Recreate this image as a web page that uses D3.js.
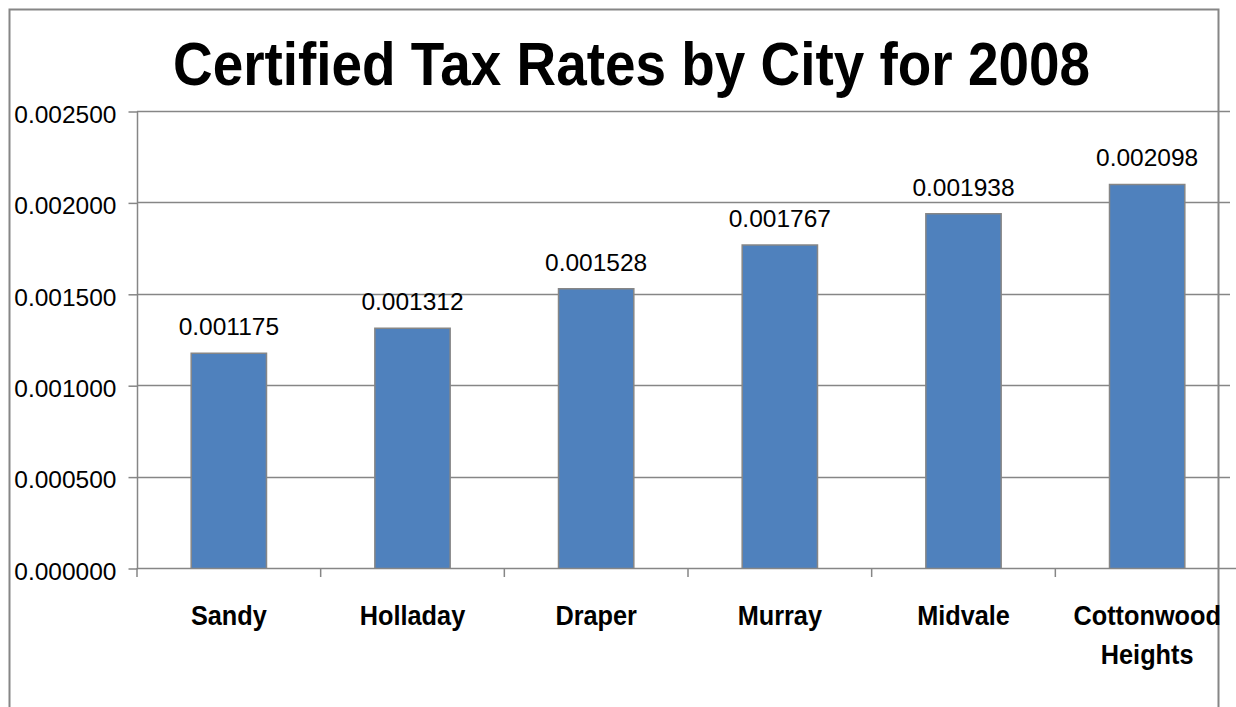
<!DOCTYPE html>
<html><head><meta charset="utf-8">
<script src="https://cdn.jsdelivr.net/npm/d3@7"></script>
<style>
html,body{margin:0;padding:0;background:#fff;}
svg{display:block;}
</style></head>
<body>
<svg id="c" width="1236" height="707"></svg>
<script>
const cities = ["Sandy","Holladay","Draper","Murray","Midvale","Cottonwood Heights"];
const rates = [0.001175,0.001312,0.001528,0.001767,0.001938,0.002098];
const yTicks = [0,0.0005,0.001,0.0015,0.002,0.0025];
const titleText = "Certified Tax Rates by City for 2008";

(function(){
const svg = d3.select("#c");
const gray = "#868686";
const pL = 137, pR = 1239, pT = 111, pB = 568;
const numFont = "'Liberation Sans',Arial,sans-serif";

// outer frame
svg.append("path").attr("d","M9.5,720 V9.5 H1218.5 V720")
  .attr("fill","none").attr("stroke",gray).attr("stroke-width",2);

// title
svg.append("text").attr("x",173).attr("y",85)
  .attr("font-family","'Liberation Sans',Arial,sans-serif")
  .attr("font-weight","bold").attr("font-size",61).attr("fill","#000")
  .attr("textLength",917).attr("lengthAdjust","spacingAndGlyphs")
  .text(titleText);

const x = d3.scaleBand().domain(cities).range([pL,pR]).paddingInner(0.59).paddingOuter(0.295);
const y = d3.scaleLinear().domain([0,0.0025]).range([pB,pT]);

// gridlines
svg.append("g").selectAll("line").data(yTicks.filter(d=>d>0)).join("line")
  .attr("x1",pL).attr("x2",1230).attr("y1",d=>Math.round(y(d))+0.5).attr("y2",d=>Math.round(y(d))+0.5)
  .attr("stroke",gray).attr("stroke-width",1.5);

// y axis
const yAxis = d3.axisLeft(y).tickValues(yTicks).tickFormat(d3.format(".6f")).tickSize(9).tickPadding(12);
const gy = svg.append("g").attr("transform",`translate(${pL+0.5},0.5)`).call(yAxis);
gy.select(".domain").attr("stroke",gray).attr("stroke-width",1.5).attr("d",`M0,${pT}V${pB}`);
gy.selectAll(".tick line").attr("stroke",gray).attr("stroke-width",1.5);
gy.selectAll(".tick text").attr("font-family",numFont)
  .attr("font-size",24.5).attr("fill","#000").attr("dy","0.44em");

// bars
const bars = svg.append("g");
bars.selectAll("rect").data(rates).join("rect")
  .attr("x",(d,i)=>x(cities[i])).attr("width",x.bandwidth())
  .attr("y",d=>y(d)).attr("height",d=>pB-y(d)+1)
  .attr("fill","#4F81BD");
bars.selectAll("path").data(rates).join("path")
  .attr("d",(d,i)=>{const x0=x(cities[i]),x1=x0+x.bandwidth();return `M${x0},${pB}V${y(d)}H${x1}V${pB}`;})
  .attr("fill","none").attr("stroke",gray).attr("stroke-width",1.5);

// x axis line and category ticks
svg.append("line").attr("x1",pL).attr("x2",1240).attr("y1",pB+0.5).attr("y2",pB+0.5)
  .attr("stroke",gray).attr("stroke-width",1.5);
const step = x.step();
svg.append("g").selectAll("line").data(cities).join("line")
  .attr("x1",(c)=>x(c)-(step-x.bandwidth())/2).attr("x2",(c)=>x(c)-(step-x.bandwidth())/2)
  .attr("y1",pB).attr("y2",pB+9)
  .attr("stroke",gray).attr("stroke-width",1.5);

// value labels
svg.append("g").selectAll("text").data(rates).join("text")
  .attr("x",(d,i)=>x(cities[i])+x.bandwidth()/2).attr("y",d=>y(d)-18)
  .attr("text-anchor","middle").attr("font-family",numFont)
  .attr("font-size",24.5).attr("fill","#000").text(d=>d3.format(".6f")(d));

// category labels
const catFmt = {"Cottonwood Heights":["Cottonwood","Heights"]};
const cl = svg.append("g").selectAll("text").data(cities).join("text")
  .attr("transform",c=>`translate(${x(c)+x.bandwidth()/2},625) scale(0.92,1)`)
  .attr("text-anchor","middle")
  .attr("font-family","'Liberation Sans',Arial,sans-serif")
  .attr("font-weight","bold").attr("font-size",27.5).attr("fill","#000");
cl.each(function(c){
  const lines = catFmt[c] || [c];
  const t = d3.select(this);
  lines.forEach((l,i)=>t.append("tspan").attr("x",0).attr("dy",i?39:0).text(l));
});
})();
</script>
</body></html>
